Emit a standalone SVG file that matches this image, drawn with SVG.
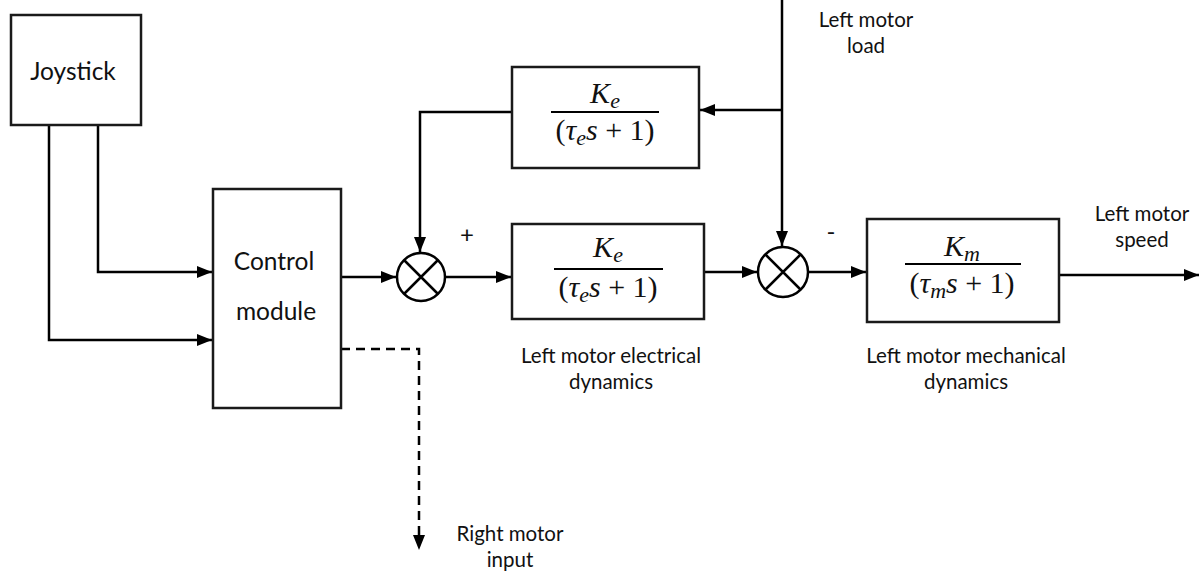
<svg xmlns="http://www.w3.org/2000/svg" width="1199" height="571" viewBox="0 0 1199 571">
<style>
.box{fill:#fff;stroke:#1a1a1a;stroke-width:2.5}
.ln{fill:none;stroke:#000;stroke-width:2.5}
.dash{fill:none;stroke:#000;stroke-width:2.5;stroke-dasharray:9 6}
.t{font-family:Lato,"Liberation Sans",sans-serif;font-size:20.5px;fill:#111;text-anchor:middle}
.tb{font-family:Lato,"Liberation Sans",sans-serif;font-size:24.5px;fill:#111;text-anchor:middle}
.sg{font-family:Lato,"Liberation Sans",sans-serif;font-size:24px;fill:#111;text-anchor:middle}
.m{font-family:"Liberation Serif","DejaVu Serif",serif;font-size:30px;fill:#111;text-anchor:middle}
.mi{font-style:italic}
.sub{font-family:"Liberation Serif","DejaVu Serif",serif;font-style:italic;font-size:22px}
.fr{stroke:#000;stroke-width:1.8}
</style>
<defs>
<marker id="ar" viewBox="0 0 15 12" refX="15" refY="6" markerWidth="15" markerHeight="12" markerUnits="userSpaceOnUse" orient="auto">
<path d="M0,0 L15,6 L0,12 z" fill="#000"/>
</marker>
</defs>

<g id="connectors">
<path class="ln" d="M98,125 V272 H212" marker-end="url(#ar)"/>
<path class="ln" d="M49,125 V340 H212" marker-end="url(#ar)"/>
<path class="ln" d="M341,277 H396" marker-end="url(#ar)"/>
<path class="ln" d="M446,277 H511" marker-end="url(#ar)"/>
<path class="ln" d="M512,112 H420 V252" marker-end="url(#ar)"/>
<path class="ln" d="M782,0 V246" marker-end="url(#ar)"/>
<path class="ln" d="M782,110 H700" marker-end="url(#ar)"/>
<path class="ln" d="M704,272 H757" marker-end="url(#ar)"/>
<path class="ln" d="M808,272 H866" marker-end="url(#ar)"/>
<path class="ln" d="M1059,275 H1199" marker-end="url(#ar)"/>
<path class="dash" d="M341,349 H419 V536"/>
<path d="M413,535 L425,535 L419,550 z" fill="#000"/>
</g>

<g id="joystick">
<rect class="box" x="11" y="15" width="130" height="110"/>
<text class="tb" x="73" y="80">Joystick</text>
</g>

<g id="control-module">
<rect class="box" x="213" y="189" width="128" height="219"/>
<text class="tb" x="274" y="270">Control</text>
<text class="tb" x="276" y="320">module</text>
</g>

<g id="sum1">
<circle class="ln" cx="421" cy="277" r="24"/>
<path class="ln" d="M404,260 L438,294 M438,260 L404,294" stroke-width="2"/>
<text class="sg" x="467" y="243">+</text>
</g>

<g id="feedback-block">
<rect class="box" x="512" y="67" width="187" height="101"/>
<text class="m" x="605" y="103"><tspan class="mi">K</tspan><tspan class="sub" dy="5">e</tspan></text>
<line class="fr" x1="551" y1="112" x2="659" y2="112"/>
<text class="m" x="605" y="140">(<tspan class="mi">τ</tspan><tspan class="sub" dy="5">e</tspan><tspan class="mi" dy="-5">s</tspan> + 1)</text>
</g>

<g id="electrical-block">
<rect class="box" x="512" y="224" width="192" height="95"/>
<text class="m" x="608" y="257"><tspan class="mi">K</tspan><tspan class="sub" dy="5">e</tspan></text>
<line class="fr" x1="554" y1="269" x2="663" y2="269"/>
<text class="m" x="608" y="297">(<tspan class="mi">τ</tspan><tspan class="sub" dy="5">e</tspan><tspan class="mi" dy="-5">s</tspan> + 1)</text>
<text class="t" x="611" y="363">Left motor electrical</text>
<text class="t" x="611" y="389">dynamics</text>
</g>

<g id="sum2">
<circle class="ln" cx="783" cy="272" r="25"/>
<path class="ln" d="M765,254 L801,290 M801,254 L765,290" stroke-width="2"/>
<text class="sg" x="831" y="240">-</text>
</g>

<g id="mechanical-block">
<rect class="box" x="867" y="219" width="192" height="103"/>
<text class="m" x="962" y="256"><tspan class="mi">K</tspan><tspan class="sub" dy="5">m</tspan></text>
<line class="fr" x1="905" y1="264" x2="1021" y2="264"/>
<text class="m" x="962" y="293">(<tspan class="mi">τ</tspan><tspan class="sub" dy="5">m</tspan><tspan class="mi" dy="-5">s</tspan> + 1)</text>
<text class="t" x="966" y="363">Left motor mechanical</text>
<text class="t" x="966" y="389">dynamics</text>
</g>

<g id="labels">
<text class="t" x="866" y="27">Left motor</text>
<text class="t" x="866" y="53">load</text>
<text class="t" x="1142" y="221">Left motor</text>
<text class="t" x="1142" y="247">speed</text>
<text class="t" x="510" y="541">Right motor</text>
<text class="t" x="510" y="567">input</text>
</g>
</svg>
